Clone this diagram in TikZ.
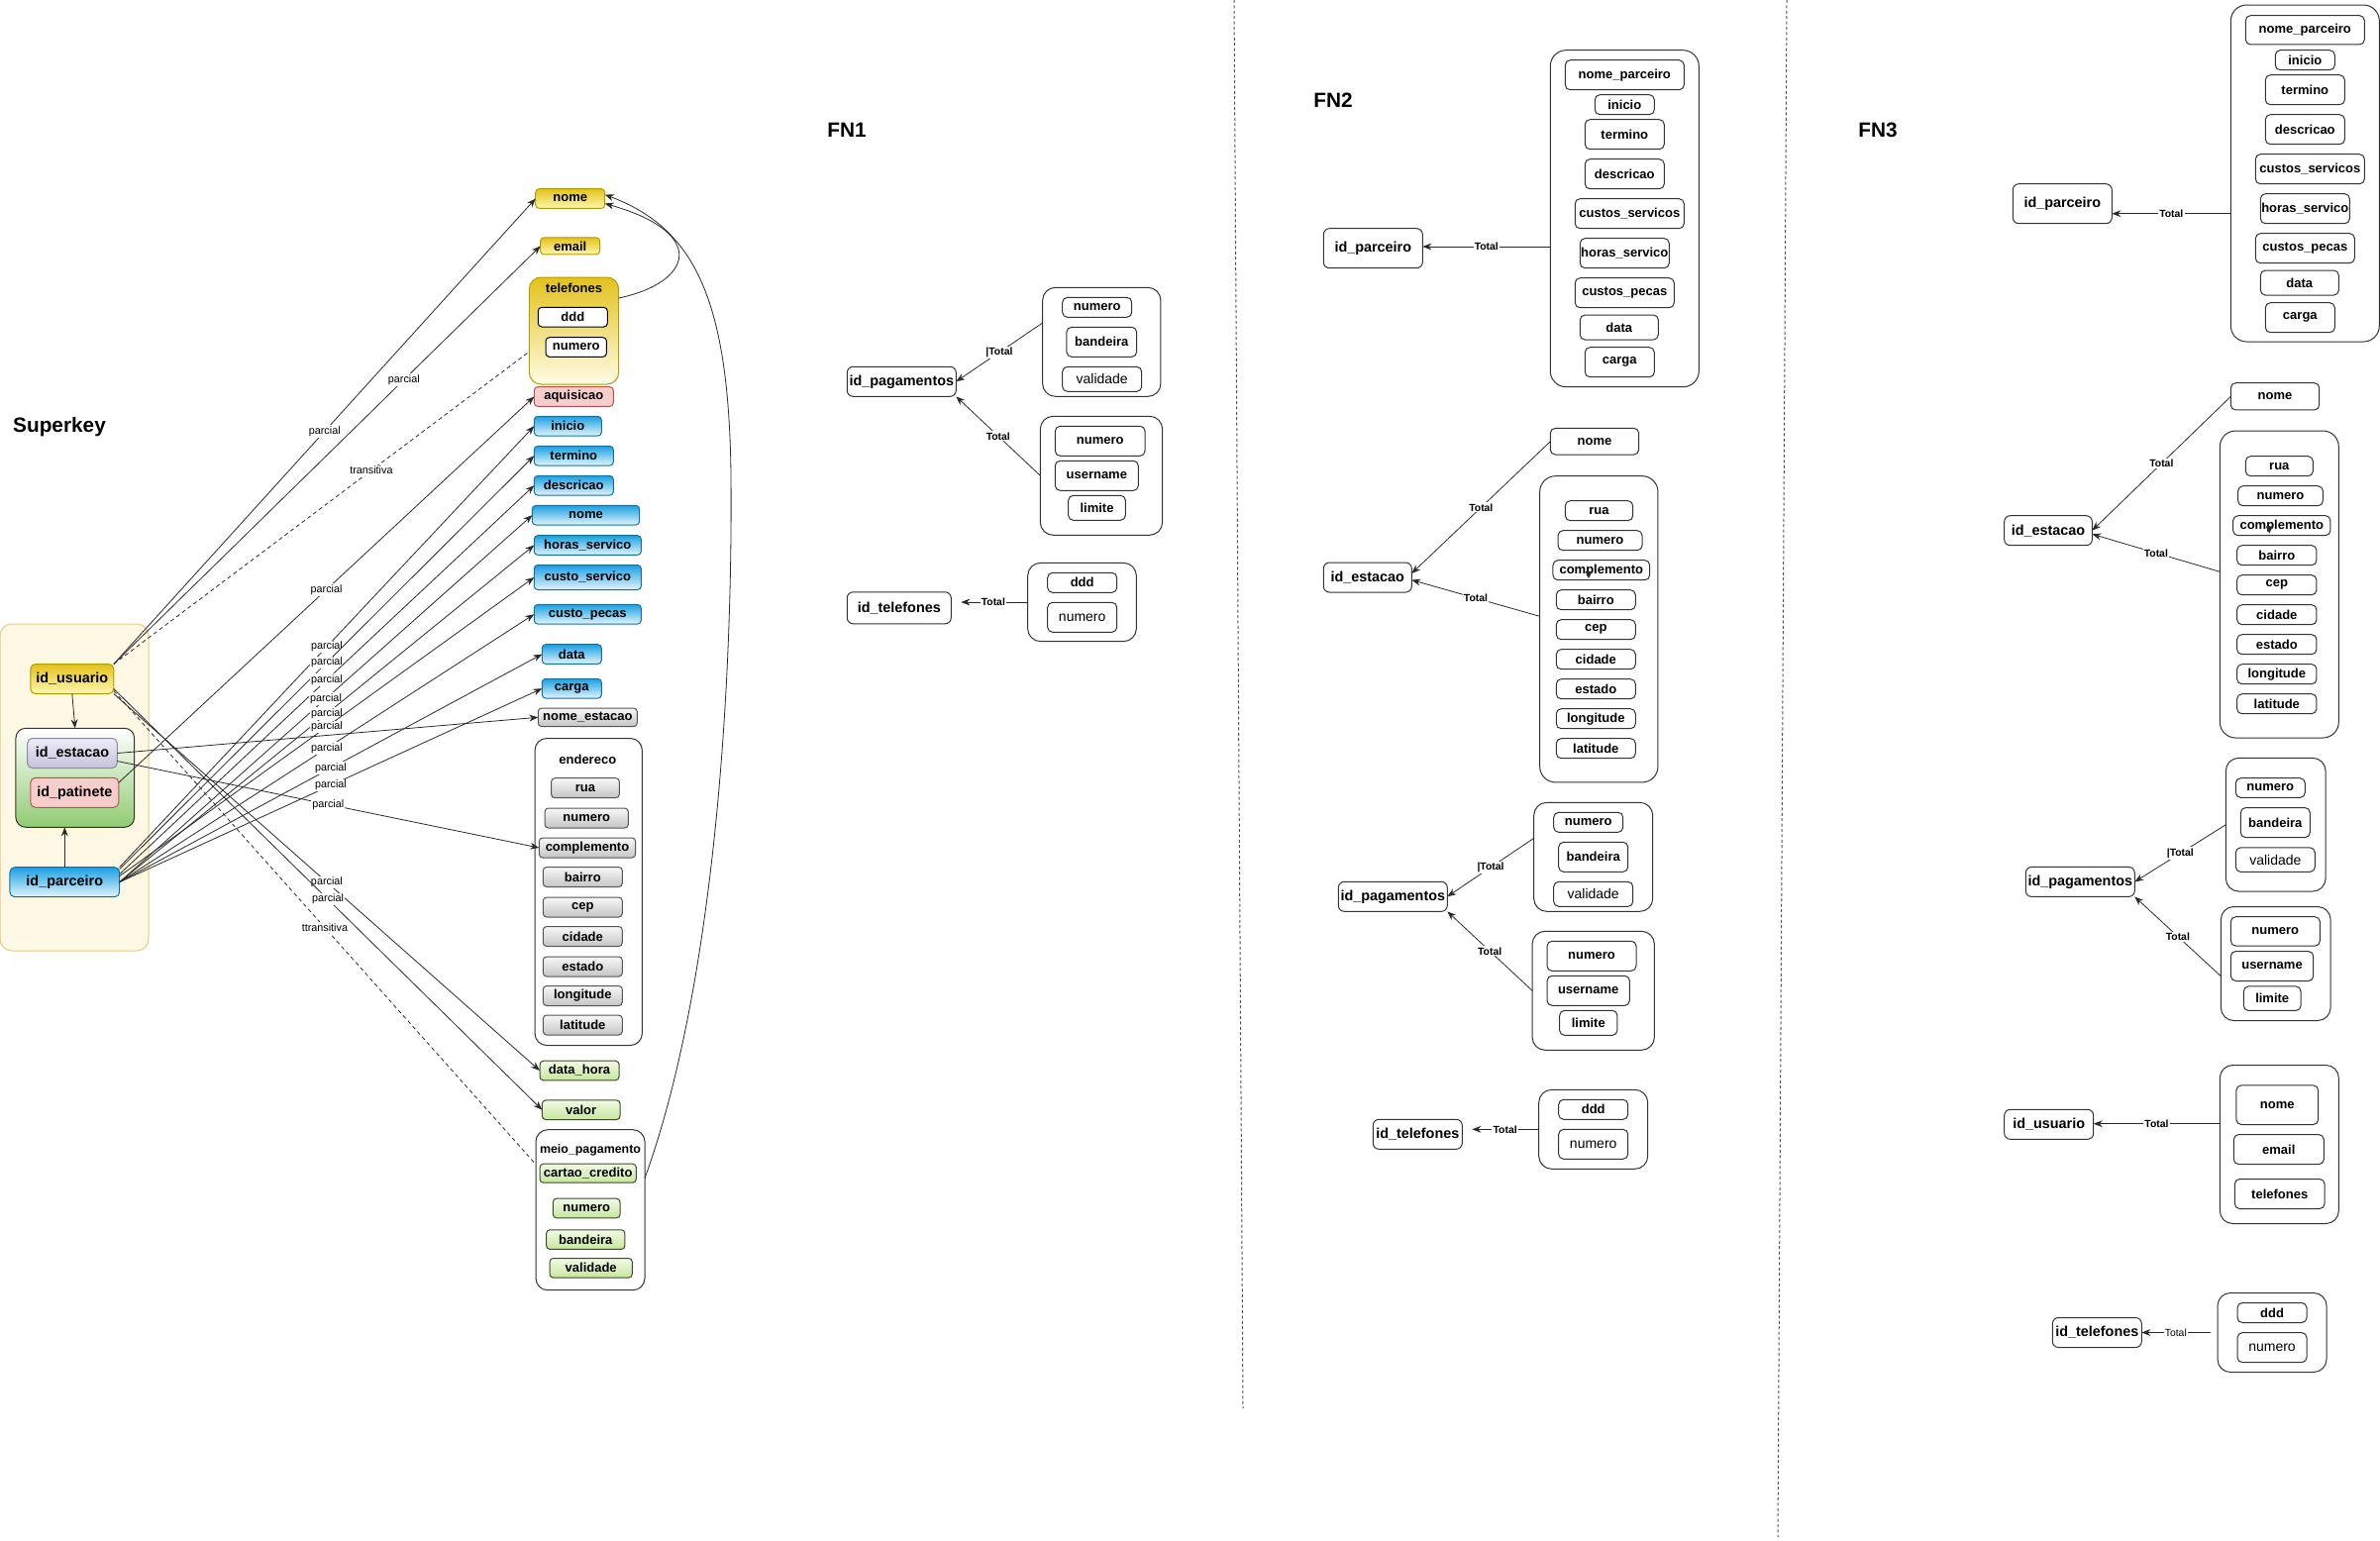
\documentclass[tikz,border=0pt]{standalone}
\usepackage{fontspec}
\setmainfont{Liberation Sans}
\usetikzlibrary{arrows.meta}
\definecolor{lnc}{HTML}{2A2A2A}
\definecolor{dk}{HTML}{333333}
\definecolor{ylwT}{HTML}{E3C21C}
\definecolor{ylwB}{HTML}{FFF7B0}
\definecolor{ylwD}{HTML}{B49B00}
\definecolor{ylgB}{HTML}{FFFCE6}
\definecolor{bluT}{HTML}{1BA1E2}
\definecolor{bluB}{HTML}{E3F4FD}
\definecolor{bluD}{HTML}{10739E}
\definecolor{pnkF}{HTML}{F8CECC}
\definecolor{pnkD}{HTML}{B85450}
\definecolor{gryT}{HTML}{F8F8F8}
\definecolor{gryB}{HTML}{C4C4C4}
\definecolor{gryD}{HTML}{555555}
\definecolor{grnT}{HTML}{F2FBE6}
\definecolor{grnB}{HTML}{C6E69C}
\definecolor{grnD}{HTML}{3E4A30}
\definecolor{lavT}{HTML}{EEECF7}
\definecolor{lavB}{HTML}{C5C2DB}
\definecolor{lavD}{HTML}{8A87A8}
\definecolor{ggB}{HTML}{8FCB72}
\definecolor{skF}{HTML}{FFF8E4}
\definecolor{skD}{HTML}{E2CC88}
\definecolor{divc}{HTML}{555555}
\newcommand\fattr{\fontsize{6.5pt}{7.5pt}\selectfont\bfseries}
\newcommand\freg{\fontsize{7pt}{8pt}\selectfont}
\newcommand\fid{\fontsize{7.2pt}{8.5pt}\selectfont\bfseries}
\newcommand\fttl{\fontsize{10.4pt}{12pt}\selectfont\bfseries}
\newcommand\flbl{\fontsize{5.4pt}{6pt}\selectfont}
\newcommand\ftot{\fontsize{5.2pt}{6pt}\selectfont\bfseries}
\newcommand\ftotr{\fontsize{5.2pt}{6pt}\selectfont}
\newcommand\fmp{\fontsize{6.2pt}{7pt}\selectfont\bfseries}
\begin{document}
\begin{tikzpicture}[x=0.5pt,y=-0.5pt,
  bs0/.style={inner sep=0pt, outer sep=0pt, align=center, line width=0.5pt},
  sz/.style 2 args={minimum width=#1*0.5pt, minimum height=#2*0.5pt},
  ay/.style={bs0, rounded corners=1.8pt, draw=ylwD, top color=ylwT, bottom color=ylwB, font=\fattr},
  ab/.style={bs0, rounded corners=1.8pt, draw=bluD, top color=bluT, bottom color=bluB, font=\fattr},
  ap/.style={bs0, rounded corners=1.8pt, draw=pnkD, fill=pnkF, font=\fattr},
  ag/.style={bs0, rounded corners=1.8pt, draw=gryD, top color=gryT, bottom color=gryB, font=\fattr},
  agr/.style={bs0, rounded corners=1.8pt, draw=grnD, top color=grnT, bottom color=grnB, font=\fattr},
  aw/.style={bs0, rounded corners=1.8pt, draw=black, fill=white, font=\fattr},
  cw/.style={bs0, rounded corners=6pt, draw=dk, fill=white},
  ygrp/.style={bs0, rounded corners=6pt, draw=ylwD, top color=ylwT, bottom color=ylgB},
  gt/.style={bs0, font=\fattr},
  idk/.style={bs0, rounded corners=2.5pt, font=\fid},
  skbg/.style={bs0, rounded corners=6pt, draw=skD, fill=skF},
  grpG/.style={bs0, rounded corners=5pt, draw=dk, top color=white, bottom color=ggB},
  ttl/.style={bs0, font=\fttl},
  fb/.style={bs0, rounded corners=2.5pt, draw=dk, fill=white, font=\fattr},
  fbr/.style={fb, font=\freg},
  fid/.style={bs0, rounded corners=3pt, draw=dk, fill=white, font=\fid},
  fg/.style={bs0, rounded corners=6.5pt, draw=dk, fill=white},
  fgb/.style={bs0, rounded corners=8pt, draw=dk, fill=white},
  lbl/.style={font=\flbl, fill=white, inner sep=0.6pt},
  tot/.style={font=\ftot, fill=white, inner sep=0.6pt},
  totr/.style={font=\ftotr, fill=white, inner sep=0.6pt},
  arr/.style={draw=lnc, line width=0.4pt, -{Stealth[length=4.5pt,width=3.4pt]}},
  dsh/.style={draw=lnc, line width=0.4pt, dash pattern=on 2pt off 1.6pt},
  divl/.style={draw=divc, line width=0.5pt, dash pattern=on 1.5pt off 1.2pt}
]
\useasboundingbox (0,0) rectangle (2403,1555);
\fill[white] (0,0) rectangle (2403,1555);

% ---------------- Superkey ----------------
\node[skbg, sz={150}{330}] (sk) at (75,795) {};
\node[ttl] (tsk) at (60,431) {Superkey};
\node[grpG, sz={119.7}{100}] (grp) at (75.8,785.3) {};
\node[idk, draw=ylwD, top color=ylwT, bottom color=ylwB, sz={84}{30}] (u) at (72.8,685.5) {id\_usuario};
\node[idk, draw=lavD, top color=lavT, bottom color=lavB, sz={90.6}{30}] (est) at (73,760.5) {id\_estacao};
\node[idk, draw=pnkD, fill=pnkF, sz={89}{30}] (pat) at (75.3,800.3) {id\_patinete};
\node[idk, draw=bluD, top color=bluT, bottom color=bluB, sz={110.7}{30}] (par) at (65.3,890.7) {id\_parceiro};

\node[ay, sz={70}{19.6}] (anome) at (575.7,200.5) {nome};
\node[ay, sz={60}{17}] (aemail) at (575.7,248.4) {email};
\node[ygrp, sz={90.3}{108}] (atel) at (579.5,334) {};
\node[gt] (ateltt) at (579.5,290.7) {telefones};
\node[aw, sz={70}{19.6}] (addd) at (578.3,320.2) {ddd};
\node[aw, sz={61.3}{19.6}] (atnum) at (581.7,350.5) {numero};
\node[ap, sz={80}{19.6}] (aaq) at (579.3,400.5) {aquisicao};
\node[ab, sz={68}{19.6}] (aini) at (573.3,430.2) {inicio};
\node[ab, sz={80}{19.6}] (ater) at (579.3,460.2) {termino};
\node[ab, sz={80}{19.6}] (adesc) at (579.3,490.2) {descricao};
\node[ab, sz={108.3}{19.6}] (anome2) at (591.5,520.2) {nome};
\node[ab, sz={108}{19.6}] (ahoras) at (593.3,550.5) {horas\_servico};
\node[ab, sz={108}{25}] (acserv) at (593.3,583) {custo\_servico};
\node[ab, sz={108}{19.6}] (acpec) at (593.3,620.2) {custo\_pecas};
\node[ab, sz={60}{19.6}] (adata) at (577.3,660.5) {data};
\node[ab, sz={60}{19.6}] (acarga) at (577.3,695.2) {carga};
\node[ag, sz={100}{18.6}] (anest) at (593.3,724.3) {nome\_estacao};
\node[cw, sz={108.3}{310}] (aend) at (594.2,900.5) {};
\node[gt] (aendtt) at (593.3,767) {endereco};
\node[ag, sz={68.7}{20}] (arua) at (591,795.7) {rua};
\node[ag, sz={84.3}{20}] (anum) at (592.2,826) {numero};
\node[ag, sz={97.3}{20}] (acomp) at (593,856) {complemento};
\node[ag, sz={80}{20}] (abai) at (588.3,885.5) {bairro};
\node[ag, sz={80}{20}] (acep) at (588.3,916) {cep};
\node[ag, sz={80}{20}] (acid) at (588.3,945.5) {cidade};
\node[ag, sz={80}{20}] (aest) at (588.3,976) {estado};
\node[ag, sz={80}{20}] (alon) at (588.3,1005.5) {longitude};
\node[ag, sz={80}{20}] (alat) at (588.3,1035) {latitude};
\node[agr, sz={80}{19.6}] (adh) at (585,1081) {data\_hora};
\node[agr, sz={78.7}{19.6}] (aval) at (586.7,1120.7) {valor};
\node[cw, sz={110}{162}] (amp) at (596,1221.7) {};
\node[gt, font=\fmp] (amptt) at (596,1161) {meio\_pagamento};
\node[agr, sz={97.3}{19}] (acc) at (593.7,1184.7) {cartao\_credito};
\node[agr, sz={67.7}{19.6}] (ampn) at (592.2,1220) {numero};
\node[agr, sz={79.3}{19.6}] (ampb) at (591.3,1251.6) {bandeira};
\node[agr, sz={83.3}{19.6}] (ampv) at (596.7,1280.3) {validade};

% connectors (superkey)
\draw[arr] (u.south) -- (grp.north);
\draw[arr] (par.north) -- (par.north |- grp.south);
\draw[arr] (u.north east) -- node[lbl]{parcial} (anome.west);
\draw[arr] (u.north east) -- node[lbl,pos=0.68]{parcial} (aemail.west);
\draw[dsh] (u.north east) -- node[lbl,pos=0.62]{transitiva} (atel.205);
\draw[arr] (u.south east) -- node[lbl]{parcial} (adh.west);
\draw[arr] ([yshift=2.5pt]u.south east) -- node[lbl]{parcial} (aval.west);
\draw[dsh] ([yshift=1.5pt]u.south east) -- node[lbl]{ttransitiva} ([yshift=23pt]amp.west);
\draw[arr] ([yshift=5pt]pat.east) -- node[lbl]{parcial} (aaq.west);
\draw[arr] (par.north east) -- node[lbl]{parcial} (aini.west);
\draw[arr] ([yshift=-1pt]par.north east) -- node[lbl]{parcial} (ater.west);
\draw[arr] ([yshift=4pt]par.east) -- node[lbl]{parcial} (adesc.west);
\draw[arr] (par.east) -- node[lbl]{parcial} (anome2.west);
\draw[arr] (par.east) -- node[lbl]{parcial} (ahoras.west);
\draw[arr] ([yshift=3pt]par.east) -- node[lbl]{parcial} (acserv.west);
\draw[arr] (par.east) -- node[lbl]{parcial} (acpec.west);
\draw[arr] (par.east) -- node[lbl]{parcial} (adata.west);
\draw[arr] (par.east) -- node[lbl]{parcial} (acarga.west);
\draw[arr] (est.east) -- (anest.west);
\draw[arr] ([yshift=-4pt]est.east) -- node[lbl]{parcial} (acomp.west);
\draw[arr] ([yshift=16.5pt]atel.east) .. controls (700,285) and (715,235) .. ([yshift=-2.5pt]anome.east);
\draw[arr] ([yshift=16pt]amp.east) .. controls (720,1000) and (740,700) .. (738,480) .. controls (736,300) and (700,230) .. ([yshift=2pt]anome.east);

% dividers
\draw[divl] (1246,0) -- (1255,1422);
\draw[divl] (1804,0) -- (1795,1552);

% ---------------- FN1 ----------------
\node[ttl] (tf1) at (855,131) {FN1};
\node[fid, sz={110}{30}] (f1pag) at (910.3,385.3) {id\_pagamentos};
\node[fg, sz={119.3}{110}] (f1A) at (1112.3,345.3) {};
\node[fb, sz={70}{20}] (f1An) at (1107.7,310.3) {numero};
\node[fb, sz={70.7}{30}] (f1Ab) at (1112.3,345.3) {bandeira};
\node[fbr, sz={80}{25}] (f1Av) at (1112.7,382.8) {validade};
\node[fg, sz={123.3}{120}] (f1B) at (1112,480.3) {};
\node[fb, sz={90.7}{30}] (f1Bn) at (1110.7,445.3) {numero};
\node[fb, sz={84}{30}] (f1Bu) at (1107.3,480.3) {username};
\node[fb, sz={57.7}{25}] (f1Bl) at (1107.5,512.8) {limite};
\node[fid, sz={105}{32}] (f1tel) at (907.8,613.8) {id\_telefones};
\node[fg, sz={109.7}{79.3}] (f1C) at (1092.5,608) {};
\node[fb, sz={70}{20}] (f1Cd) at (1092.7,588.3) {ddd};
\node[fbr, sz={70}{30}] (f1Cn) at (1092.7,623.3) {numero};
\draw[arr] ([yshift=9.65pt]f1A.west) -- node[tot]{|Total} (f1pag.east);
\draw[arr] (f1B.west) -- node[tot]{Total} (f1pag.south east);
\draw[arr, shorten >=5pt] (f1C.west) -- node[tot,pos=0.45]{Total} (f1C.west -| f1tel.east);

% ---------------- FN2 ----------------
\node[ttl] (tf2) at (1346,101) {FN2};
\node[fid, sz={100}{40}] (f2par) at (1386.3,250.7) {id\_parceiro};
\node[fgb, sz={150}{340}] (f2G) at (1640.3,220.7) {};
\node[fb, sz={120}{30}] (f2G1) at (1640.3,75.7) {nome\_parceiro};
\node[fb, sz={60}{20}] (f2G2) at (1640.3,105.7) {inicio};
\node[fb, sz={80}{30}] (f2G3) at (1640.3,135.7) {termino};
\node[fb, sz={80}{30}] (f2G4) at (1640.3,175.7) {descricao};
\node[fb, sz={110}{30}] (f2G5) at (1645.3,215.7) {custos\_servicos};
\node[fb, sz={90}{30}] (f2G6) at (1640.3,255.7) {horas\_servico};
\node[fb, sz={100}{30}] (f2G7) at (1640.3,295.7) {custos\_pecas};
\node[fb, sz={79}{25}] (f2G8) at (1634.8,330.5) {data};
\node[fb, sz={70}{30}] (f2G9) at (1635.3,365.7) {carga};
\draw[arr] ([yshift=-14.15pt]f2G.west) -- node[tot]{Total} ([yshift=-14.15pt]f2G.west -| f2par.east);

\node[fid, sz={89}{30}] (f2est) at (1380.8,583) {id\_estacao};
\node[fb, sz={89.3}{26.7}] (f2nome) at (1610,445.7) {nome};
\node[fgb, sz={119.3}{309.3}] (f2E) at (1614.3,635.3) {};
\node[fb, sz={68.3}{20}] (f2E1) at (1614.5,515.7) {rua};
\node[fb, sz={85}{20}] (f2E2) at (1615.5,545.7) {numero};
\node[fb, sz={97.7}{20}] (f2E3) at (1616.8,575.7) {complemento};
\node[fb, sz={80}{20}] (f2E4) at (1611.3,605.7) {bairro};
\node[fb, sz={80}{20}] (f2E5) at (1611.3,635.7) {cep};
\node[fb, sz={80}{20}] (f2E6) at (1611.3,665.7) {cidade};
\node[fb, sz={80}{20}] (f2E7) at (1611.3,695.7) {estado};
\node[fb, sz={80}{20}] (f2E8) at (1611.3,725.7) {longitude};
\node[fb, sz={80}{20}] (f2E9) at (1611.3,755.7) {latitude};
\fill[lnc] (1600.5,577) -- (1607.5,577) -- (1604,584) -- cycle;
\draw[arr] (f2nome.west) -- node[tot]{Total} ([yshift=2pt]f2est.east);
\draw[arr] ([yshift=6.5pt]f2E.west) -- node[tot]{Total} ([yshift=-1.3pt]f2est.east);

\node[fid, sz={110}{30}] (f2pag) at (1406.3,905.3) {id\_pagamentos};
\node[fg, sz={120}{110}] (f2A) at (1608.7,865.3) {};
\node[fb, sz={70}{20}] (f2An) at (1603.7,830.3) {numero};
\node[fb, sz={70}{30}] (f2Ab) at (1608.7,865.3) {bandeira};
\node[fbr, sz={80}{25}] (f2Av) at (1608.7,902.8) {validade};
\node[fg, sz={123.3}{120}] (f2B) at (1608.7,1000.3) {};
\node[fb, sz={90}{30}] (f2Bn) at (1607,965.3) {numero};
\node[fb, sz={83.3}{30}] (f2Bu) at (1603.7,1000.3) {username};
\node[fb, sz={58.3}{25}] (f2Bl) at (1603.8,1032.8) {limite};
\draw[arr] ([yshift=9.5pt]f2A.west) -- node[tot]{|Total} (f2pag.east);
\draw[arr] (f2B.west) -- node[tot]{Total} (f2pag.south east);
\node[fid, sz={90}{30}] (f2tel) at (1431.3,1145.3) {id\_telefones};
\node[fg, sz={110}{80}] (f2C) at (1608.7,1140.3) {};
\node[fb, sz={70}{20}] (f2Cd) at (1608.7,1120.3) {ddd};
\node[fbr, sz={70}{30}] (f2Cn) at (1608.7,1155.3) {numero};
\draw[arr, shorten >=5pt] (f2C.west) -- node[tot,pos=0.44]{Total} (f2C.west -| f2tel.east);

% ---------------- FN3 ----------------
\node[ttl] (tf3) at (1896,131) {FN3};
\node[fid, sz={100}{40}] (f3par) at (2082.3,205.7) {id\_parceiro};
\node[fgb, sz={150}{340}] (f3G) at (2327.3,175) {};
\node[fb, sz={120}{29.3}] (f3G1) at (2327.3,30.3) {nome\_parceiro};
\node[fb, sz={60}{20}] (f3G2) at (2327.3,60.7) {inicio};
\node[fb, sz={80}{30}] (f3G3) at (2327.3,90.7) {termino};
\node[fb, sz={80}{30}] (f3G4) at (2327.3,130.7) {descricao};
\node[fb, sz={110}{30}] (f3G5) at (2332.3,170.7) {custos\_servicos};
\node[fb, sz={90}{30}] (f3G6) at (2327.3,210.7) {horas\_servico};
\node[fb, sz={100}{30}] (f3G7) at (2327.3,250.7) {custos\_pecas};
\node[fb, sz={79}{25}] (f3G8) at (2321.8,285.5) {data};
\node[fb, sz={70}{30}] (f3G9) at (2322.3,320.7) {carga};
\draw[arr] ([yshift=-20.35pt]f3G.west) -- node[tot]{Total} ([yshift=-20.35pt]f3G.west -| f3par.east);

\node[fid, sz={88.7}{30}] (f3est) at (2068,535.7) {id\_estacao};
\node[fb, sz={89.3}{27.3}] (f3nome) at (2297,400.3) {nome};
\node[fgb, sz={120}{310}] (f3E) at (2301.3,590) {};
\node[fb, sz={68}{20}] (f3E1) at (2301.3,470.7) {rua};
\node[fb, sz={85.7}{20}] (f3E2) at (2302.5,500.7) {numero};
\node[fb, sz={98.3}{20}] (f3E3) at (2303.8,530.7) {complemento};
\node[fb, sz={80.3}{20}] (f3E4) at (2298.8,560.7) {bairro};
\node[fb, sz={80.3}{20}] (f3E5) at (2298.8,590.7) {cep};
\node[fb, sz={80.3}{20}] (f3E6) at (2298.8,620.7) {cidade};
\node[fb, sz={80.3}{20}] (f3E7) at (2298.8,650.7) {estado};
\node[fb, sz={80.3}{20}] (f3E8) at (2298.8,680.7) {longitude};
\node[fb, sz={80.3}{20}] (f3E9) at (2298.8,710.7) {latitude};
\fill[lnc] (2287.8,531.4) -- (2294.8,531.4) -- (2291.3,538.4) -- cycle;
\draw[arr] (f3nome.west) -- node[tot]{Total} (f3est.east);
\draw[arr] ([yshift=6.35pt]f3E.west) -- node[tot]{Total} ([yshift=-1.8pt]f3est.east);

\node[fid, sz={110}{30}] (f3pag) at (2100.3,890.4) {id\_pagamentos};
\node[fg, sz={100.7}{134.7}] (f3A) at (2297.7,832.7) {};
\node[fb, sz={70}{19.6}] (f3An) at (2292.3,795.5) {numero};
\node[fb, sz={70}{30}] (f3Ab) at (2297.3,830.6) {bandeira};
\node[fbr, sz={80}{24.5}] (f3Av) at (2297.3,868.1) {validade};
\node[fg, sz={110.7}{115}] (f3B) at (2297.7,973) {};
\node[fb, sz={90}{29.4}] (f3Bn) at (2297.3,940.4) {numero};
\node[fb, sz={83.3}{30}] (f3Bu) at (2294,975.5) {username};
\node[fb, sz={57.7}{24.5}] (f3Bl) at (2294.2,1008.2) {limite};
\draw[arr] (f3A.west) -- node[tot]{|Total} (f3pag.east);
\draw[arr] ([yshift=-6.35pt]f3B.west) -- node[tot]{Total} (f3pag.south east);

\node[fid, sz={90}{30}] (f3usr) at (2068.7,1135.3) {id\_usuario};
\node[fg, sz={120}{160}] (f3D) at (2301.3,1155.5) {};
\node[fb, sz={82.7}{39.6}] (f3Dn) at (2299.3,1115.7) {nome};
\node[fb, sz={91}{30}] (f3De) at (2300.8,1160.6) {email};
\node[fb, sz={90.7}{30}] (f3Dt) at (2301.7,1205.5) {telefones};
\draw[arr] ([yshift=10.4pt]f3D.west) -- node[tot]{Total} ([yshift=10.4pt]f3D.west -| f3usr.east);

\node[fid, sz={90}{30}] (f3tel) at (2117.3,1345.5) {id\_telefones};
\node[fg, sz={110}{80}] (f3C) at (2294,1345.5) {};
\node[fb, sz={70}{20}] (f3Cd) at (2294,1325.5) {ddd};
\node[fbr, sz={70}{30}] (f3Cn) at (2294,1360.6) {numero};
\draw[arr, shorten <=3.5pt] (f3C.west) -- node[totr,pos=0.55]{Total} (f3C.west -| f3tel.east);
\end{tikzpicture}
\end{document}
